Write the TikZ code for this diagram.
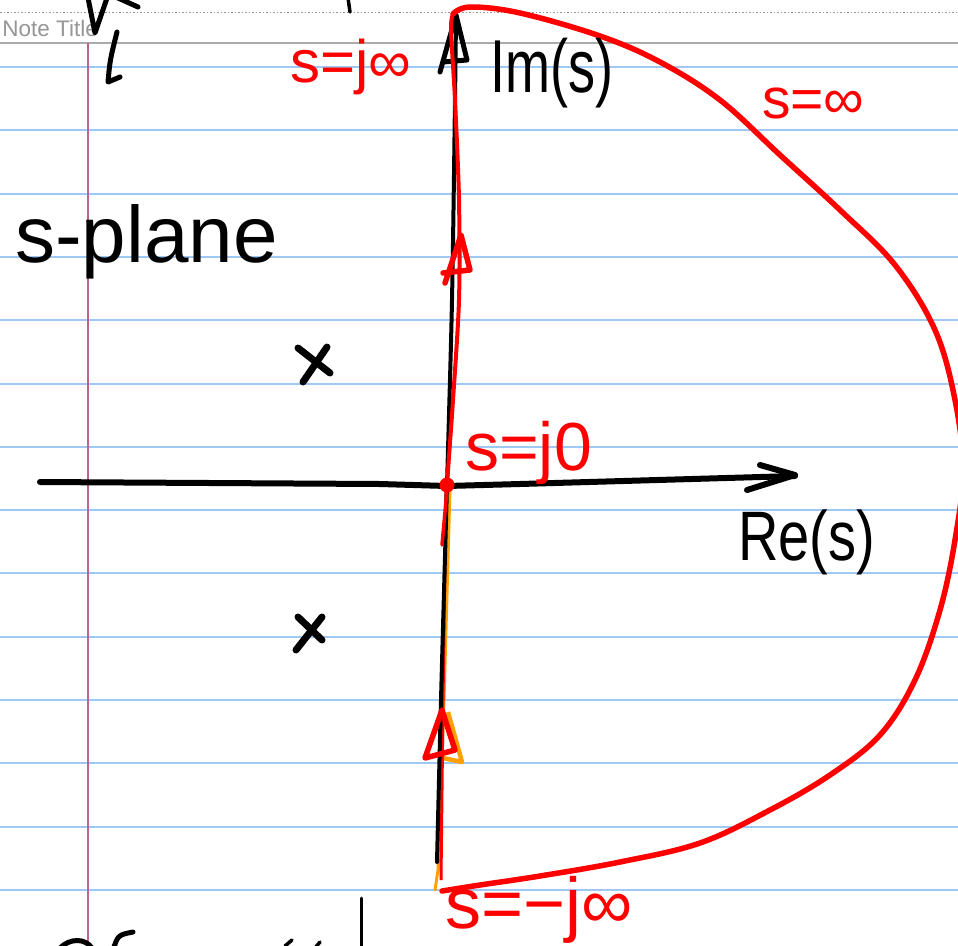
\documentclass[tikz,border=0pt]{standalone}
\usepackage{fontspec}
\usepackage{graphicx}
\setmainfont{Liberation Sans}
\definecolor{ruleblue}{RGB}{160,200,245}
\definecolor{marginpink}{RGB}{190,100,140}
\definecolor{pen}{RGB}{255,0,0}
\definecolor{hl}{RGB}{255,160,0}
\definecolor{titlegray}{RGB}{150,150,150}
\begin{document}
\begin{tikzpicture}[x=1pt,y=-1pt,
  ruleline/.style={draw=ruleblue,line width=2pt},
  ink/.style={draw=black,line width=6pt,line cap=round,line join=round},
  redink/.style={draw=pen,line width=5.5pt,line cap=round,line join=round},
  hand/.style={inner sep=0pt,anchor=base west},
  redhand/.style={hand,text=pen}]
\useasboundingbox (0,0) rectangle (958,945);
\fill[white] (0,0) rectangle (958,945);
% ruled paper
\foreach \i in {0,...,13} \draw[ruleline] (0,{67+63.3*\i}) -- (958,{67+63.3*\i});
\draw[titlegray,line width=1pt,dash pattern=on 1.5pt off 2pt] (0,12) -- (958,12);
\draw[titlegray!80,line width=2pt] (0,43) -- (958,43);
\draw[marginpink,line width=1.5pt] (88,43) -- (88,945);
\node[anchor=base east,text=titlegray,font=\fontsize{22.5}{26}\selectfont,inner sep=0pt] (title) at (98,36) {Note Title};
% stray fragments of other writing
\draw[ink,line width=5pt] (88,-2) -- (95,33) -- (107,-2);
\draw[ink,line width=5pt] (118,-2) -- (138,7);
\draw[ink,line width=5pt] (117,32) .. controls (110,60) .. (108,82) -- (120,77);
\draw[ink,line width=3.5pt] (348,-2) -- (350,12);
\draw[ink,line width=3pt] (361,898) -- (361,950);
\draw[ink,line width=5pt] (60,948) .. controls (70,938) and (85,938) .. (92,948);
\draw[ink,line width=5pt] (133,932) .. controls (118,935) .. (113,950);
\draw[ink,line width=3.5pt] (285,946) -- (292,940);
\draw[ink,line width=3.5pt] (315,948) -- (320,942);
% orange under-strokes
\draw[hl,line width=3pt,line cap=round] (450,488) -- (444,700) -- (438,870) -- (435,890);
\draw[hl,line width=4.5pt,line join=round] (448,712) -- (462,762) -- (443,758);
% red strokes under the black axis (lower half)
\draw[pen,line width=3pt] (441,880) -- (443,700) -- (446,490);
% axes
\draw[ink] (40,482) -- (380,484) -- (447,486) -- (520,484) -- (795,476);
\draw[ink] (760,465) -- (795,475) -- (747,490);
\draw[ink,line width=4pt] plot[smooth] coordinates {(437,862) (441,700) (447,485) (452,300) (455,100) (456,15)};
\draw[ink,line width=5pt] (440,72) -- (456,15) -- (467,60) -- (443,62);
% poles
\draw[ink,line width=7pt] (298,348) -- (330,373);
\draw[ink,line width=7pt] (327,347) -- (303,382);
\draw[ink,line width=7pt] (298,617) -- (322,640);
\draw[ink,line width=7pt] (322,617) -- (296,650);
% Nyquist contour
\draw[redink] plot[smooth,tension=0.6] coordinates {(453,14) (470,7) (520,13) (600,36) (660,62) (720,100) (780,155) (840,210) (895,265) (935,330) (955,400) (963,470) (955,540) (940,610) (915,680) (880,735) (830,775) (770,810) (700,843) (620,862) (540,876) (480,885) (442,891)};
\draw[redink,line width=4pt] plot[smooth] coordinates {(447,484) (453,400) (459,300) (459,200) (455,100) (451,30) (453,14)};
\draw[redink,line width=3.5pt] (447,490) -- (442,545);
\draw[redink] (445,283) -- (461,235) -- (470,270) -- (443,273);
\draw[redink] (425,758) -- (442,710) -- (455,750) -- cycle;
\fill[pen] (447,485) circle (7.5);
% labels
\node[hand,font=\fontsize{80}{90}\selectfont] (splane) at (15,262) {s-plane};
\node[hand] (im) at (490,92) {\fontsize{75}{80}\selectfont\scalebox{0.72}[1]{Im(s)}};
\node[hand] (re) at (738,560) {\fontsize{70}{80}\selectfont\scalebox{0.8}[1]{Re(s)}};
\node[redhand,font=\fontsize{60}{70}\selectfont] (sjinf) at (290,82) {s=j∞};
\node[redhand,font=\fontsize{57}{65}\selectfont] (sinf) at (762,118) {s=∞};
\node[redhand,font=\fontsize{68}{75}\selectfont] (sj0) at (465,470) {s=j0};
\node[redhand,font=\fontsize{72}{80}\selectfont] (smjinf) at (445,928) {s=−j∞};
\end{tikzpicture}
\end{document}
